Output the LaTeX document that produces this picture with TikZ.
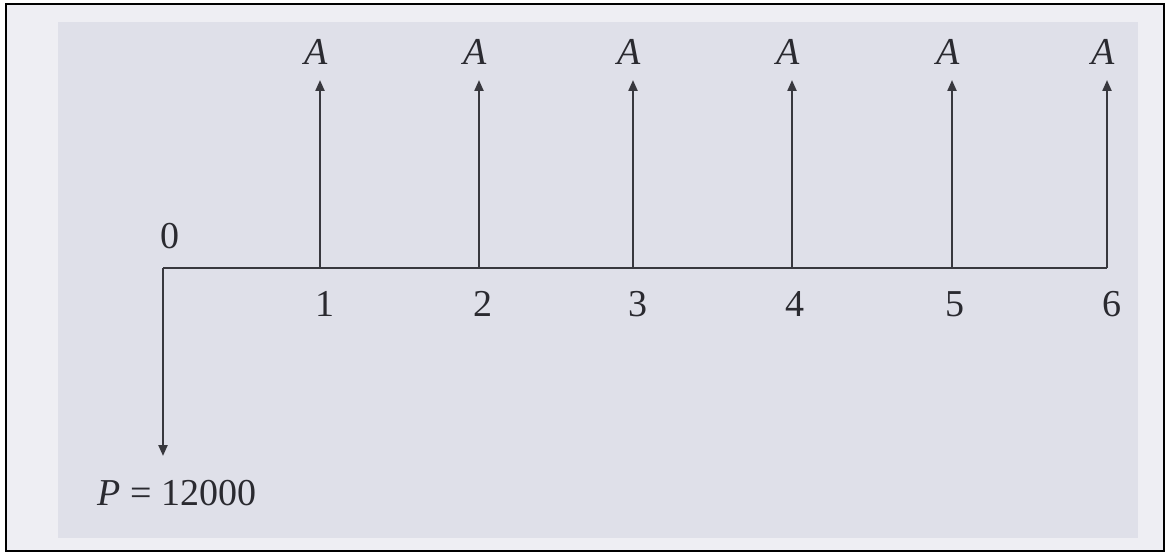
\documentclass[tikz,border=0pt]{standalone}
\usepackage{fontspec}
\setmainfont{Liberation Serif}
\usetikzlibrary{arrows.meta}
\definecolor{paper}{HTML}{EEEEF3}
\definecolor{panel}{HTML}{DFE0E9}
\definecolor{ink}{HTML}{38383E}
\definecolor{txt}{HTML}{2A2A30}
\tikzset{
  axis/.style={draw=ink, line width=2.4pt},
  flow/.style={draw=ink, line width=2.2pt, -{Triangle[length=11pt,width=9pt]}},
  lbl/.style={text=txt, inner sep=0pt, font=\fontsize{38}{40}\selectfont},
}
\begin{document}
\begin{tikzpicture}[x=1pt,y=-1pt]
\useasboundingbox (0,0) rectangle (1167,556);
\fill[paper] (6,4) rectangle (1164,551);
\fill[panel] (58,22) rectangle (1138,538);
\draw[black, line width=2.2pt] (6,4) rectangle (1164,551);

% axis points
\coordinate (t0) at (163,268);
\coordinate (t1) at (320,268);
\coordinate (t2) at (479,268);
\coordinate (t3) at (633,268);
\coordinate (t4) at (792,268);
\coordinate (t5) at (952,268);
\coordinate (t6) at (1107,268);
% arrow tips
\coordinate (u1) at (320,80);
\coordinate (u2) at (479,80);
\coordinate (u3) at (633,80);
\coordinate (u4) at (792,80);
\coordinate (u5) at (952,80);
\coordinate (u6) at (1107,80);
\coordinate (d0) at (163,456);

\draw[axis] (t0) -- (t6);
\foreach \i in {1,...,6} {
  \draw[flow] (t\i) -- (u\i);
}
\draw[flow] (t0) -- (d0);

% labels
\node[lbl] (a1) at (316,52) {\textit{A}};
\node[lbl] (a2) at (475,52) {\textit{A}};
\node[lbl] (a3) at (629,52) {\textit{A}};
\node[lbl] (a4) at (788,52) {\textit{A}};
\node[lbl] (a5) at (948,52) {\textit{A}};
\node[lbl] (a6) at (1103,52) {\textit{A}};

\node[lbl] (n0) at (170,236) {0};
\node[lbl] (n1) at (325,304) {1};
\node[lbl] (n2) at (483,304) {2};
\node[lbl] (n3) at (638,304) {3};
\node[lbl] (n4) at (795,304) {4};
\node[lbl] (n5) at (955,304) {5};
\node[lbl] (n6) at (1112,304) {6};

\node[lbl] (p) at (177,493) {\textit{P} = 12000};
\end{tikzpicture}
\end{document}
